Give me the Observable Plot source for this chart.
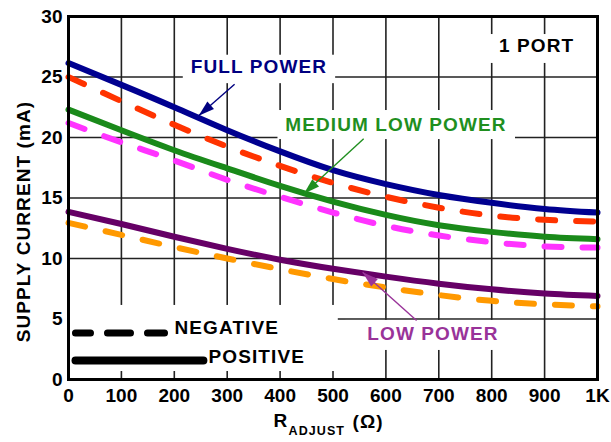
<!DOCTYPE html>
<html><head><meta charset="utf-8">
<script src="https://cdn.jsdelivr.net/npm/d3@7"></script>
<script src="https://cdn.jsdelivr.net/npm/@observablehq/plot@0.6"></script>
<style>
html,body{margin:0;padding:0;background:#fff;}
#chart svg{display:block;}
g[aria-label="text"] text{letter-spacing:1.1px;}
</style></head><body><div id="chart"></div>
<script>
// ---- data ----
const rAdjust = [0,100,200,300,400,500,600,700,800,900,1000];
const fullPowerPositive = [26.15,24.35,22.5,20.6,18.85,17.3,16.15,15.25,14.6,14.1,13.8];
const fullPowerNegative = [25.0,23.0,21.05,19.25,17.65,16.25,15.1,14.2,13.55,13.2,13.05];
const mediumLowPositive = [22.3,20.6,18.95,17.45,16.0,14.7,13.6,12.75,12.2,11.8,11.6];
const mediumLowNegative = [21.2,19.6,18.1,16.5,15.1,13.8,12.7,11.9,11.35,11.0,10.9];
const lowPowerPositive = [13.85,12.85,11.8,10.8,9.9,9.15,8.5,7.92,7.45,7.1,6.9];
const lowPowerNegative = [12.95,11.95,10.95,10.0,9.12,8.3,7.6,6.98,6.5,6.22,6.05];
const yTicks = [0,5,10,15,20,25,30];
const xTicks = [0,100,200,300,400,500,600,700,800,900,1000];
const xTickLabels = ["0","100","200","300","400","500","600","700","800","900","1K"];
const yTitle = "SUPPLY CURRENT (mA)";
const xTitleParts = ["R","ADJUST","(Ω)"];

// annotation anchors in data units (Ω, mA)
const labelTexts = ["FULL POWER","MEDIUM LOW POWER","LOW POWER","1 PORT"];
const labelX = [360, 619, 689, 885];
const labelY = [25.87, 21.03, 3.76, 27.56];
const labelColors = ["#000080","#1f8f1f","#993399","#000000"];
const arrowFrom = [[314,24.4],[558,19.9],[658,4.88]];
const arrowTo = [[246,21.8],[445,15.35],[556,8.87]];
const arrowColors = ["#000080","#1f8f1f","#993399"];
// white boxes behind labels [x1,x2,y1,y2]
const boxes = [[217,505,24.45,26.8],[396,845,19.83,22.23],[788,985,26.12,28.51],[524,854,2.4,4.88],[0,510,0.66,6.12]];
const legendTexts = ["NEGATIVE","POSITIVE"];
const legendTextX = [200.4, 264.7];
const legendTextY = [4.26, 1.86];
const legendLineY = [3.84, 1.57];
const legendLineX = [[13.2,181.5],[13.2,255]];

const series = [
  {v: fullPowerNegative, color:"#ff3300", dash:true},
  {v: mediumLowNegative, color:"#ff33ff", dash:true},
  {v: lowPowerNegative, color:"#ff9900", dash:true},
  {v: fullPowerPositive, color:"#000090", dash:false},
  {v: mediumLowPositive, color:"#1a8a1a", dash:false},
  {v: lowPowerPositive, color:"#660066", dash:false}
];

const W = 611, H = 442;
const mL = 68, mR = 14, mT = 16, mB = 63;
const sx = Plot.scale({x:{domain:[0,1000], range:[mL, W-mR]}});
const sy = Plot.scale({y:{domain:[0,30], range:[H-mB, mT]}});

const arrowHead = {draw(ctx){ const L=16, w=5; ctx.moveTo(0,0); ctx.lineTo(w,L); ctx.lineTo(-w,L); ctx.closePath(); }};

const font = {fontSize:19, fontWeight:"bold"};
const marks = [];
marks.push(Plot.gridX(xTicks, {stroke:"#222", strokeOpacity:1, strokeWidth:1.6}));
marks.push(Plot.gridY(yTicks, {stroke:"#222", strokeOpacity:1, strokeWidth:1.6}));
marks.push(Plot.rect(boxes, {x1:d=>d[0], x2:d=>d[1], y1:d=>d[2], y2:d=>d[3], fill:"white"}));
for (const s of series) {
  const rows = rAdjust.map((x,i)=>({x, y:s.v[i]}));
  marks.push(Plot.line(rows, {x:"x", y:"y", stroke:s.color, strokeWidth:6, curve:"natural",
    strokeLinecap:"round", strokeDasharray: s.dash ? "17,21" : null}));
}
// arrows
arrowFrom.forEach((f,i)=>{
  const t = arrowTo[i];
  const dx = sx.apply(t[0]) - sx.apply(f[0]);
  const dy = sy.apply(t[1]) - sy.apply(f[1]);
  const ang = Math.atan2(dx, -dy) * 180 / Math.PI;
  marks.push(Plot.link([{f,t}], {x1:d=>d.f[0], y1:d=>d.f[1], x2:d=>d.t[0], y2:d=>d.t[1], stroke:arrowColors[i], strokeWidth:1.4}));
  marks.push(Plot.dot([t], {x:d=>d[0], y:d=>d[1], r:5, symbol:arrowHead, fill:arrowColors[i], stroke:"none", rotate:ang}));
});
// labels
labelTexts.forEach((txt,i)=>{
  marks.push(Plot.text([txt], {x:labelX[i], y:labelY[i], text:d=>d, fill:labelColors[i], ...font}));
});
// legend
marks.push(Plot.line(legendLineX[0].map(x=>({x, y:legendLineY[0]})), {x:"x", y:"y", stroke:"black", strokeWidth:7, strokeDasharray:"23,17", strokeDashoffset:8}));
marks.push(Plot.line(legendLineX[1].map(x=>({x, y:legendLineY[1]})), {x:"x", y:"y", stroke:"black", strokeWidth:8}));
legendTexts.forEach((txt,i)=>{
  marks.push(Plot.text([txt], {x:legendTextX[i], y:legendTextY[i], text:d=>d, textAnchor:"start", fill:"black", ...font}));
});
// axes
marks.push(Plot.axisY(yTicks, {tickSize:0, tickPadding:6, label:null, ...font}));
marks.push(Plot.axisX(xTicks, {tickSize:0, tickPadding:9, label:null, tickFormat:(d)=>xTickLabels[xTicks.indexOf(d)], ...font}));
// titles
marks.push(Plot.text([yTitle], {frameAnchor:"left", dx:-44.5, dy:23.5, rotate:-90, textAnchor:"middle", text:d=>d, ...font}));
marks.push(Plot.text([xTitleParts[0]], {frameAnchor:"bottom-left", dx:205, dy:47.5, textAnchor:"start", text:d=>d, ...font}));
marks.push(Plot.text([xTitleParts[1]], {frameAnchor:"bottom-left", dx:220, dy:55, textAnchor:"start", text:d=>d, fontSize:12.5, fontWeight:"bold"}));
marks.push(Plot.text([xTitleParts[2]], {frameAnchor:"bottom-left", dx:284, dy:48, textAnchor:"start", text:d=>d, ...font}));
marks.push(Plot.frame({stroke:"black", strokeWidth:3}));

const chart = Plot.plot({
  width: W, height: H,
  marginLeft: mL, marginRight: mR, marginTop: mT, marginBottom: mB,
  x: {domain:[0,1000], axis:null},
  y: {domain:[0,30], axis:null},
  style: {fontFamily:"'Liberation Sans', Arial, sans-serif", background:"white", color:"black"},
  marks
});
document.getElementById("chart").appendChild(chart);
</script></body></html>
